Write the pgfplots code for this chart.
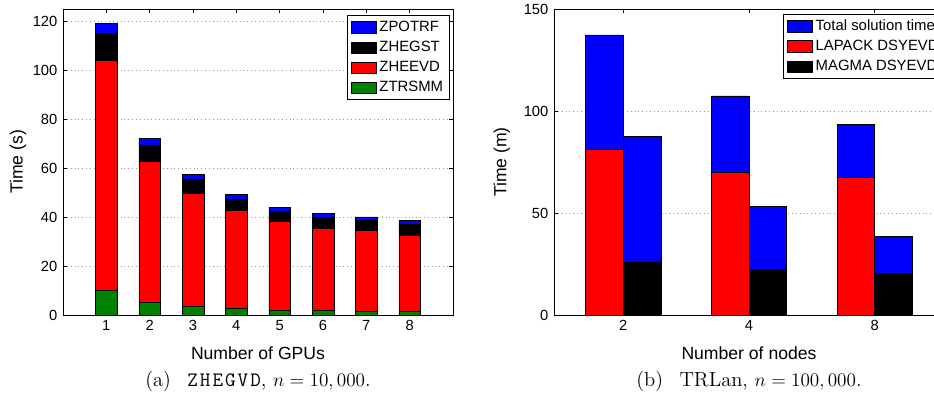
\documentclass[border=0pt]{standalone}
\usepackage{fontspec}
\usepackage{pgfplots}
\usepackage{pgfplotstable}
\pgfplotsset{compat=1.18}
\newfontfamily\helv{Liberation Sans}
\newfontfamily\lmtt{Latin Modern Mono}[LetterSpace=10]

\definecolor{mblue}{rgb}{0,0,1}
\definecolor{mred}{rgb}{1,0,0}
\definecolor{mgreen}{rgb}{0,0.5,0}

% ZHEGVD, n = 10,000: time per stage (s)
\pgfplotstableread{
gpus trsmm heevd hegst potrf
1 10.0 94.1 11.0 4.0
2  5.0 57.6  6.9 2.7
3  3.7 46.0  5.8 1.9
4  2.7 39.9  4.7 2.0
5  2.1 36.0  4.3 1.7
6  1.8 33.6  4.5 1.5
7  1.5 32.9  4.1 1.6
8  1.3 31.4  4.3 1.8
}\gputimes

% TRLan, n = 100,000: time (m); bars left/right of each node count
\pgfplotstableread{
pos total
0.85 137.3
1.15  87.6
1.85 107.4
2.15  53.4
2.85  93.6
3.15  38.6
}\totaltimes
\pgfplotstableread{
pos lapack
0.85 81.0
1.85 70.0
2.85 67.3
}\lapacktimes
\pgfplotstableread{
pos magma
1.15 26.0
2.15 22.4
3.15 20.4
}\magmatimes

\pgfplotsset{
  matlabstyle/.style={
    scale only axis,
    width=243.75pt, height=191.25pt,
    axis line style={line width=0.6pt},
    tick align=inside,
    tick pos=both,
    major tick length=2.2pt,
    tick style={black, line width=0.4pt},
    ymajorgrids,
    major grid style={dotted, gray!80, line width=0.4pt},
    tick label style={font=\helv\fontsize{9.2}{11}\selectfont},
    /pgf/number format/assume math mode=true,
    label style={font=\helv\fontsize{11}{13}\selectfont},
    legend style={font=\helv\fontsize{9.3}{10.5}\selectfont, draw=black,
      line width=0.5pt, fill=white, inner xsep=2pt, inner ysep=1.5pt,
      row sep=0.6pt, cells={anchor=west}},
    xlabel style={at={(axis description cs:0.5,-0.124)}, anchor=center},
  },
  boxlegend/.style={legend image code/.code={%
    \draw[##1, draw=black, line width=0.4pt] (0pt,-3.6pt) rectangle (15.6pt,3.6pt);}},
}

\begin{document}
\begin{tikzpicture}
\useasboundingbox (0pt,0pt) rectangle (583.75pt,246.25pt);
\clip (0pt,0pt) rectangle (583.75pt,246.25pt);

\begin{axis}[matlabstyle,
  at={(39.375pt,49.375pt)}, anchor=south west,
  xmin=0, xmax=9, ymin=0, ymax=125,
  xtick={1,...,8}, ytick={0,20,...,120},
  ybar stacked, bar width=0.5,
  xlabel={Number of GPUs}, ylabel={Time (s)},
  ylabel style={at={(axis description cs:-0.1154,0.5)}, anchor=center},
  reverse legend,
  legend style={at={(axis description cs:0.992,0.980)}, anchor=north east},
]
\addplot[fill=mgreen, draw=black, line width=0.4pt, boxlegend] table[x=gpus, y=trsmm]{\gputimes};
\addplot[fill=mred, draw=black, line width=0.4pt, boxlegend] table[x=gpus, y=heevd]{\gputimes};
\addplot[fill=black, draw=black, line width=0.4pt, boxlegend] table[x=gpus, y=hegst]{\gputimes};
\addplot[fill=mblue, draw=black, line width=0.4pt, boxlegend] table[x=gpus, y=potrf]{\gputimes};
\legend{ZTRSMM, ZHEEVD, ZHEGST, ZPOTRF}
\end{axis}

\begin{axis}[matlabstyle,
  at={(346.25pt,49.375pt)}, anchor=south west,
  xmin=0.45, xmax=3.55, ymin=0, ymax=150,
  xtick={1,2,3}, xticklabels={2,4,8}, ytick={0,50,100,150},
  xlabel={Number of nodes}, ylabel={Time (m)},
  ylabel style={at={(axis description cs:-0.134,0.5)}, anchor=center},
  legend style={at={(axis description cs:0.588,0.985)}, anchor=north west},
]
\addplot[ybar, bar width=0.3, bar shift=0pt, fill=mblue, draw=black, line width=0.4pt, boxlegend]
  table[x=pos, y=total]{\totaltimes};
\addplot[ybar, bar width=0.3, bar shift=0pt, fill=mred, draw=black, line width=0.4pt, boxlegend]
  table[x=pos, y=lapack]{\lapacktimes};
\addplot[ybar, bar width=0.3, bar shift=0pt, fill=black, draw=black, line width=0.4pt, boxlegend]
  table[x=pos, y=magma]{\magmatimes};
\legend{Total solution time, LAPACK DSYEVD, MAGMA DSYEVD}
\end{axis}

\node[anchor=base, font=\fontsize{12.8}{15}\selectfont] at (161.25pt,4.7pt)
  {(a)\hspace{0.8em}{\lmtt ZHEGVD}, $n=10,000$.};
\node[anchor=base, font=\fontsize{12.8}{15}\selectfont] at (468.125pt,4.7pt)
  {(b)\hspace{0.8em}TRLan, $n=100,000$.};
\end{tikzpicture}
\end{document}
